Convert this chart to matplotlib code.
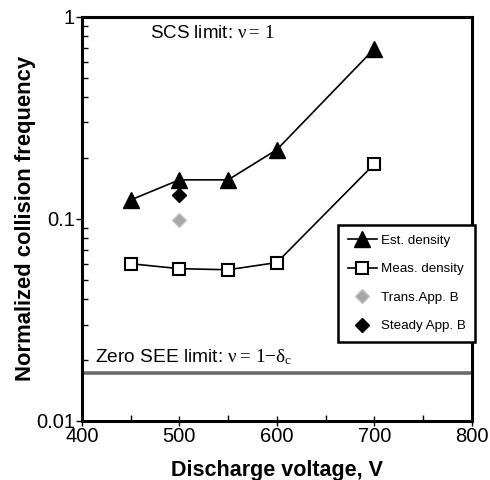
import matplotlib
matplotlib.use("Agg")
import matplotlib.pyplot as plt
from matplotlib.ticker import FixedLocator, LogLocator, NullFormatter

plt.rcParams['font.family'] = ['Liberation Sans', 'DejaVu Sans']
plt.rcParams['mathtext.fontset'] = 'custom'
plt.rcParams['mathtext.rm'] = 'Liberation Serif'
plt.rcParams['mathtext.it'] = 'Liberation Serif:italic'

# ---- data ----
voltage = [450, 500, 550, 600, 700]
est_density = [0.124, 0.156, 0.156, 0.22, 0.695]
meas_density = [0.060, 0.0567, 0.056, 0.0608, 0.187]
trans_v, trans_nu = [500], [0.099]
steady_v, steady_nu = [500], [0.131]
zero_see_limit = 0.0172

fig = plt.figure(figsize=(4.9, 4.8), dpi=100)
ax = fig.add_axes([0.167, 0.123, 0.796, 0.842])

ax.axhline(zero_see_limit, color='#6a6a6a', lw=2.6, zorder=1)

ax.plot(voltage, est_density, color='black', lw=1.2, marker='^', ms=11,
        mfc='black', mec='black', label='Est. density', zorder=3)
ax.plot(voltage, meas_density, color='black', lw=1.2, marker='s', ms=8.5,
        mfc='white', mec='black', mew=1.5, label='Meas. density', zorder=3)
ax.plot(trans_v, trans_nu, ls='none', marker='D', ms=7, mfc='#a6a6a6',
        mec='#c4c4c4', mew=1, label='Trans.App. B', zorder=3)
ax.plot(steady_v, steady_nu, ls='none', marker='D', ms=7, mfc='black',
        mec='black', label='Steady App. B', zorder=3)

ax.set_yscale('log')
ax.set_ylim(0.01, 1)
ax.set_xlim(400, 800)
ax.set_xticks([400, 500, 600, 700, 800])
ax.xaxis.set_minor_locator(FixedLocator([450, 550, 650, 750]))
ax.set_yticks([0.01, 0.1, 1])
ax.set_yticklabels(['0.01', '0.1', '1'])
ax.yaxis.set_minor_locator(LogLocator(base=10, subs=range(2, 10)))
ax.yaxis.set_minor_formatter(NullFormatter())

ax.tick_params(axis='x', which='major', direction='inout', length=7, width=1,
               labelsize=14.5, pad=1)
ax.tick_params(axis='x', which='minor', direction='in', length=4, width=1)
ax.tick_params(axis='y', which='major', direction='out', length=4, width=1,
               labelsize=14.5, pad=1)
ax.tick_params(axis='y', which='minor', direction='in', length=4, width=1)

for s in ax.spines.values():
    s.set_linewidth(2.2)

ax.set_xlabel('Discharge voltage, V', fontsize=15.5, fontweight='bold', labelpad=10)
ax.set_ylabel('Normalized collision frequency', fontsize=15.8, fontweight='bold',
              labelpad=0)

ax.text(470, 0.83, r'SCS limit: $\mathrm{\nu{=}\,1}$', fontsize=13.5, va='center')
ax.text(413, 0.0208, r'Zero SEE limit: $\mathrm{\nu{=}\,1{-}\delta_c}$',
        fontsize=13.8, va='center')

leg = ax.legend(loc='upper left', bbox_to_anchor=(0.658, 0.485), fontsize=9.6,
                fancybox=False, framealpha=1, edgecolor='black',
                borderpad=0.7, labelspacing=1.22, handlelength=2.2,
                handletextpad=0.3, borderaxespad=0)
leg.get_frame().set_linewidth(1.8)
leg.set_zorder(5)

fig.savefig('out.png', dpi=100)
